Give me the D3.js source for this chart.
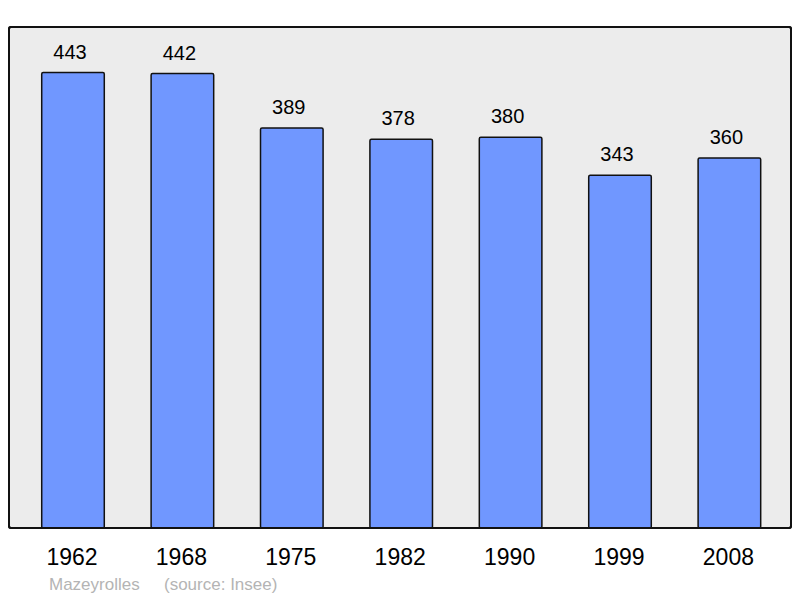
<!DOCTYPE html>
<html>
<head>
<meta charset="utf-8">
<script src="https://cdn.jsdelivr.net/npm/d3@7"></script>
<style>
  body { margin: 0; background: #fff; }
  text { font-family: "Liberation Sans", Arial, sans-serif; }
</style>
</head>
<body>
<script>
// population per census year
var years = ["1962", "1968", "1975", "1982", "1990", "1999", "2008"];
var population = [443, 442, 389, 378, 380, 343, 360];
var townName = "Mazeyrolles";
var sourceNote = "(source: Insee)";

var width = 800, height = 598;
var panel = { left: 9, top: 27, right: 791, bottom: 528 };

var svg = d3.select("body").append("svg")
    .attr("width", width)
    .attr("height", height);

// background panel
svg.append("rect")
    .attr("x", panel.left)
    .attr("y", panel.top)
    .attr("width", panel.right - panel.left)
    .attr("height", panel.bottom - panel.top)
    .attr("rx", 2)
    .attr("fill", "#ececec")
    .attr("stroke", "#111")
    .attr("stroke-width", 2);

var x = d3.scaleBand()
    .domain(years)
    .range([18.3, 784.1])
    .paddingInner(0.428)
    .paddingOuter(0.214);

var y = d3.scaleLinear()
    .domain([0, d3.max(population) * 1.1])
    .range([panel.bottom, panel.top]);

var data = years.map(function (yr, i) { return { year: yr, value: population[i] }; });

svg.selectAll("rect.bar")
    .data(data)
    .enter().append("rect")
    .attr("class", "bar")
    .attr("x", function (d) { return x(d.year); })
    .attr("y", function (d) { return y(d.value); })
    .attr("width", x.bandwidth())
    .attr("height", function (d) { return panel.bottom - y(d.value); })
    .attr("rx", 1.5)
    .attr("fill", "#7097ff")
    .attr("stroke", "#111")
    .attr("stroke-width", 1.5);

// value labels above bars
svg.selectAll("text.value")
    .data(data)
    .enter().append("text")
    .attr("class", "value")
    .attr("x", function (d) { return x(d.year) + x.bandwidth() / 2 - 3; })
    .attr("y", function (d) { return y(d.value) - 14; })
    .attr("text-anchor", "middle")
    .attr("font-size", 20)
    .attr("fill", "#000")
    .text(function (d) { return d.value; });

// redraw panel border on top
svg.append("rect")
    .attr("x", panel.left)
    .attr("y", panel.top)
    .attr("width", panel.right - panel.left)
    .attr("height", panel.bottom - panel.top)
    .attr("rx", 2)
    .attr("fill", "none")
    .attr("stroke", "#111")
    .attr("stroke-width", 2);

// year axis labels
var xAxis = d3.axisBottom(x).tickSize(0).tickPadding(0);
var gx = svg.append("g")
    .attr("transform", "translate(-1," + 565 + ")")
    .call(xAxis);
gx.select(".domain").remove();
gx.attr("font-size", 23).attr("font-family", "Liberation Sans, Arial, sans-serif");
gx.selectAll("text")
    .attr("dy", 0)
    .attr("y", 0)
    .attr("fill", "#000");

// caption
var caption = svg.append("g")
    .attr("font-size", 17)
    .attr("fill", "#b4b4b4");
caption.append("text").attr("x", 49).attr("y", 590).text(townName);
caption.append("text").attr("x", 164).attr("y", 590).text(sourceNote);
</script>
</body>
</html>
